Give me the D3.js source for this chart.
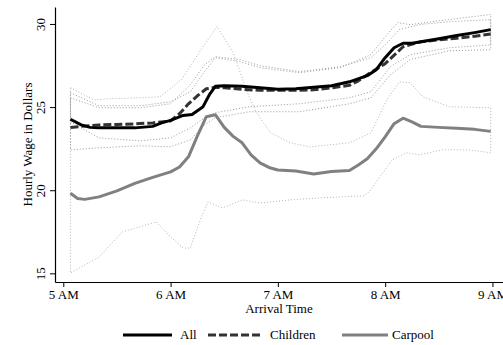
<!DOCTYPE html>
<html>
<head>
<meta charset="utf-8">
<script src="https://cdn.jsdelivr.net/npm/d3@7/dist/d3.min.js"></script>
<style>
  html, body { margin: 0; padding: 0; background: #fff; }
  svg { display: block; font-family: "Liberation Serif", "DejaVu Serif", serif; }
</style>
</head>
<body>
<svg id="chart" width="503" height="345"></svg>
<script>
// Arrival time in minutes after 5 AM, hourly wage in dollars
const xTickMinutes = [0, 60, 120, 180, 240];
const xTickLabels = ["5 AM", "6 AM", "7 AM", "8 AM", "9 AM"];
const yTicks = [15, 20, 25, 30];

const seriesNames = ["All", "Children", "Carpool"];

const allMinutes = [4,10,15,20,30,40,50,55,60,67,72,78,82,85,90,100,110,120,130,140,150,160,170,175,180,185,190,195,200,210,220,230,239];
const allWage = [24.27,23.93,23.78,23.75,23.75,23.75,23.84,24.05,24.2,24.5,24.56,25.0,25.8,26.25,26.28,26.25,26.16,26.07,26.1,26.19,26.28,26.52,26.89,27.25,27.97,28.57,28.84,28.84,28.93,29.11,29.3,29.48,29.66];

const childMinutes = [4,10,20,30,40,50,60,65,70,75,80,85,90,100,110,120,130,140,150,160,165,170,180,190,200,210,220,230,239];
const childWage = [23.77,23.84,23.93,23.96,23.99,24.05,24.17,24.6,25.2,25.68,26.1,26.19,26.16,26.07,26.01,26.01,26.01,26.04,26.16,26.31,26.58,26.95,27.61,28.63,28.93,29.05,29.14,29.26,29.39];

const carpoolMinutes = [4,8,12,20,30,40,50,60,65,70,75,80,85,90,95,100,105,110,115,120,130,140,150,160,165,170,175,180,185,190,195,200,210,220,230,239];
const carpoolWage = [19.82,19.5,19.45,19.6,19.96,20.41,20.77,21.1,21.4,22.01,23.27,24.42,24.54,23.78,23.24,22.85,22.13,21.64,21.37,21.22,21.16,20.98,21.13,21.19,21.52,21.89,22.49,23.21,24.0,24.33,24.11,23.84,23.78,23.73,23.66,23.54];

// Confidence bounds
const allUpperMinutes = [4,20,43,60,71,79,85,99,110,132,155,172,180,187,194,211,239];
const allUpper = [25.86,25.08,25.08,25.32,25.92,27.13,27.97,27.73,27.37,27.07,27.37,28.15,29.23,30.08,29.96,30.2,30.57];
const allLowerMinutes = [4,20,43,60,71,79,85,104,132,160,172,183,194,216,239];
const allLower = [24.11,23.15,22.97,23.15,23.75,24.36,24.66,25.02,25.2,25.56,25.92,27.43,28.15,28.57,28.74];

const childUpperMinutes = [4,20,43,60,71,79,85,99,110,132,155,172,180,188,199,216,239];
const childUpper = [25.56,24.96,24.96,25.2,26.34,27.55,28.03,27.86,27.49,27.13,27.43,27.97,28.74,29.66,29.96,30.14,30.26];
const childLowerMinutes = [4,20,43,60,71,79,85,104,132,160,172,183,194,216,239];
const childLower = [22.43,22.55,22.67,22.61,23.03,23.93,24.36,24.72,24.72,25.2,25.56,26.95,27.86,28.39,28.45];

const carpoolUpperMinutes = [4,17,26,43,54,66,77,86,95,103,108,116,127,138,160,172,181,188,194,201,216,239];
const carpoolUpper = [26.16,25.44,25.5,25.56,25.62,26.64,28.45,29.84,28.27,25.86,24.66,23.45,22.85,22.61,22.85,23.45,25.44,26.52,26.46,25.62,25.02,24.96];
const carpoolLowerMinutes = [4,20,33,52,60,67,71,77,81,89,100,110,127,144,168,171,177,184,192,199,212,227,239];
const carpoolLower = [15.02,15.98,17.49,18.09,17.19,16.52,16.52,18.33,19.3,18.93,19.42,19.23,19.42,19.54,19.66,19.9,20.8,21.83,22.25,22.13,22.43,22.43,22.25];

const zip = (xs, ys) => xs.map((m, i) => ({ m, v: ys[i] }));

const svg = d3.select("#chart");

const plot = { left: 55, right: 503, top: 7, bottom: 282 };

const x = d3.scaleLinear().domain([-4.64, 245.9]).range([plot.left, plot.right]);
const y = d3.scaleLinear().domain([14.48, 31.02]).range([plot.bottom, plot.top]);

const line = d3.line().x(d => x(d.m)).y(d => y(d.v));

// Confidence bands: dotted outlines, closed at both ends
const bands = [
  { up: zip(allUpperMinutes, allUpper), lo: zip(allLowerMinutes, allLower), color: "#9a9a9a" },
  { up: zip(childUpperMinutes, childUpper), lo: zip(childLowerMinutes, childLower), color: "#9a9a9a" },
  { up: zip(carpoolUpperMinutes, carpoolUpper), lo: zip(carpoolLowerMinutes, carpoolLower), color: "#b4b4b4" }
];
bands.forEach(b => {
  const pts = b.up.concat(b.lo.slice().reverse());
  svg.append("path")
    .attr("d", line(pts) + "Z")
    .attr("fill", "none")
    .attr("stroke", b.color)
    .attr("stroke-width", 1)
    .attr("stroke-dasharray", "1,2");
});

const styles = [
  { data: zip(allMinutes, allWage), color: "#000000", dash: null },
  { data: zip(childMinutes, childWage), color: "#333333", dash: "8,3" },
  { data: zip(carpoolMinutes, carpoolWage), color: "#808080", dash: null }
];

// Draw carpool first, then children, then all on top
[2, 1, 0].forEach(i => {
  const s = styles[i];
  svg.append("path")
    .attr("d", line(s.data))
    .attr("fill", "none")
    .attr("stroke", s.color)
    .attr("stroke-width", 3)
    .attr("stroke-linejoin", "round")
    .attr("stroke-dasharray", s.dash);
});

// X axis
const xAxis = d3.axisBottom(x)
  .tickValues(xTickMinutes)
  .tickFormat((d, i) => xTickLabels[i])
  .tickSizeInner(5)
  .tickSizeOuter(0)
  .tickPadding(3);
const gx = svg.append("g").attr("transform", `translate(0,${plot.bottom})`).call(xAxis);
gx.select(".domain").attr("stroke", "#000").attr("stroke-width", 1.2);
gx.selectAll(".tick line").attr("stroke", "#000");
gx.selectAll(".tick text")
  .attr("font-family", "Liberation Serif, serif")
  .attr("font-size", 13)
  .attr("fill", "#000");

// Y axis
const yAxis = d3.axisLeft(y)
  .tickValues(yTicks)
  .tickSizeInner(5)
  .tickSizeOuter(0)
  .tickPadding(3);
const gy = svg.append("g").attr("transform", `translate(${plot.left},0)`).call(yAxis);
gy.select(".domain").attr("stroke", "#000").attr("stroke-width", 1.2);
gy.selectAll(".tick line").attr("stroke", "#000");
gy.selectAll(".tick text")
  .attr("font-family", "Liberation Serif, serif")
  .attr("font-size", 13)
  .attr("fill", "#000")
  .attr("x", null).attr("dy", null)
  .attr("text-anchor", "middle")
  .attr("transform", "translate(-10,0) rotate(-90)")
  .attr("y", 0);

// Axis titles
svg.append("text")
  .attr("x", (plot.left + plot.right) / 2)
  .attr("y", 313)
  .attr("text-anchor", "middle")
  .attr("font-size", 13)
  .text("Arrival Time");

svg.append("text")
  .attr("transform", `translate(32,${(plot.top + plot.bottom) / 2}) rotate(-90)`)
  .attr("text-anchor", "middle")
  .attr("font-size", 13)
  .text("Hourly Wage in Dollars");

// Legend
const legendItems = [
  { x1: 123, x2: 172, tx: 180 },
  { x1: 208, x2: 263, tx: 270 },
  { x1: 342, x2: 388, tx: 392 }
];
legendItems.forEach((li, i) => {
  const s = styles[i];
  svg.append("line")
    .attr("x1", li.x1).attr("x2", li.x2)
    .attr("y1", 335).attr("y2", 335)
    .attr("stroke", s.color)
    .attr("stroke-width", 3)
    .attr("stroke-dasharray", s.dash);
  svg.append("text")
    .attr("x", li.tx)
    .attr("y", 339)
    .attr("font-size", 13)
    .text(seriesNames[i]);
});
</script>
</body>
</html>
